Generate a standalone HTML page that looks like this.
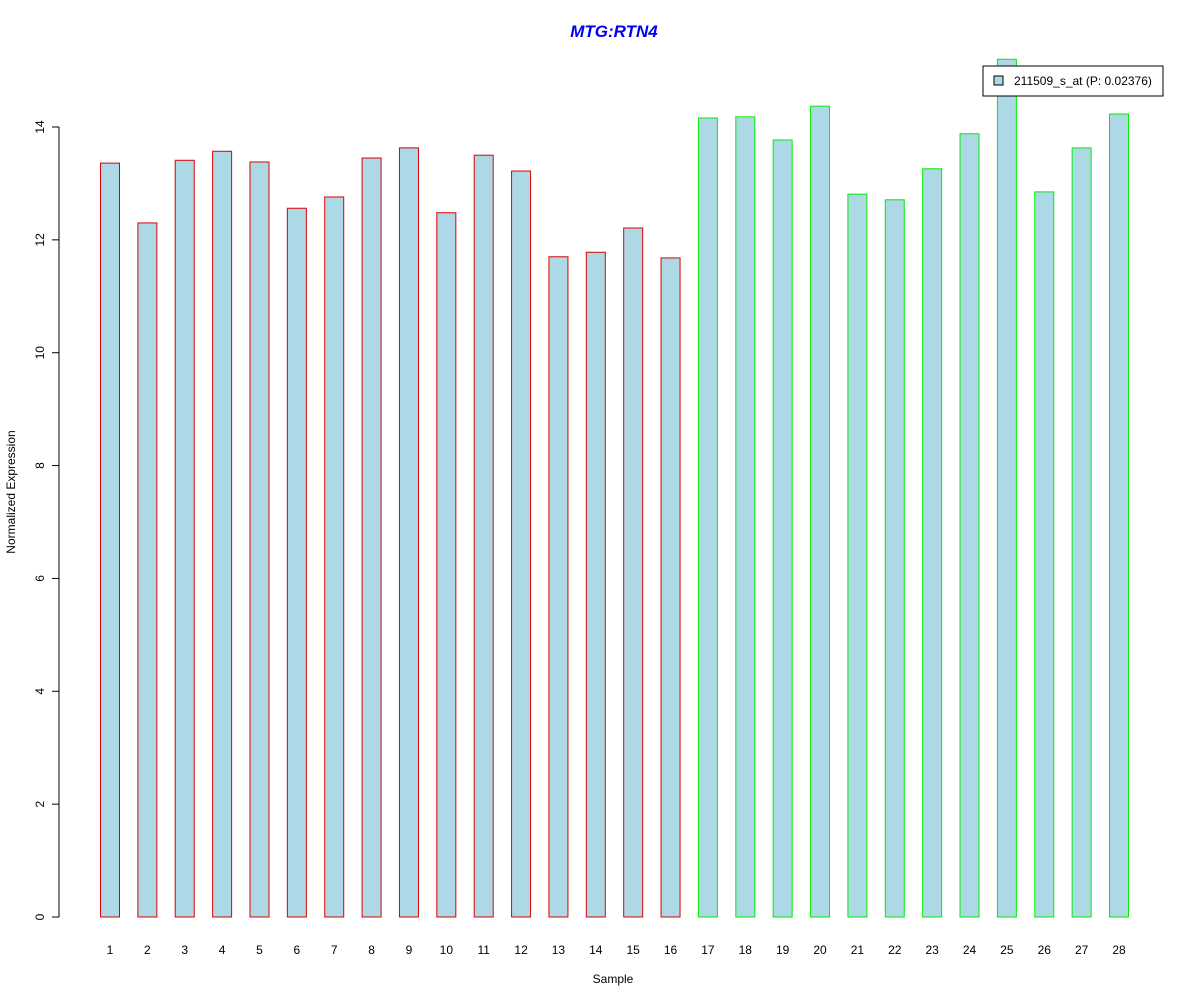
<!DOCTYPE html>
<html><head><meta charset="utf-8"><style>body{margin:0;background:#fff}svg{display:block;font-family:"Liberation Sans",Arial,sans-serif}</style></head>
<body>
<svg id="chart" width="1200" height="1000">
<rect width="1200" height="1000" fill="#fff"/>
<text x="614" y="37" text-anchor="middle" font-size="17" font-weight="bold" font-style="italic" fill="#0000ee">MTG:RTN4</text>
<text x="613" y="983" text-anchor="middle" font-size="12">Sample</text>
<text transform="translate(15,492) rotate(-90)" text-anchor="middle" font-size="12">Normalized Expression</text>
<g id="yaxis"></g>
<g id="bars"></g>
<g id="xlabels"></g>
<g>
<rect x="983" y="66" width="180" height="30" fill="#fff" stroke="#000"/>
<rect x="994" y="76" width="9" height="9" fill="#add8e6" stroke="#000"/>
<text x="1014" y="85" font-size="12">211509_s_at (P: 0.02376)</text>
</g>
</svg>
<script>
const categories=["1","2","3","4","5","6","7","8","9","10","11","12","13","14","15","16","17","18","19","20","21","22","23","24","25","26","27","28"];
const values=[13.36,12.30,13.41,13.57,13.38,12.56,12.76,13.45,13.63,12.48,13.50,13.22,11.70,11.78,12.21,11.68,14.16,14.18,13.77,14.37,12.81,12.71,13.26,13.88,15.20,12.85,13.63,14.23];
const groups=[0,0,0,0,0,0,0,0,0,0,0,0,0,0,0,0,1,1,1,1,1,1,1,1,1,1,1,1];
const yTicks=[0,2,4,6,8,10,12,14];
const NS="http://www.w3.org/2000/svg";
const y=v=>917-v*(790/14);
const x=i=>100+i*(1009/27);
const bw=19;
const ya=document.getElementById('yaxis');
function mk(t,a,p){const e=document.createElementNS(NS,t);for(const k in a)e.setAttribute(k,a[k]);p.appendChild(e);return e;}
mk('line',{x1:59,x2:59,y1:y(0),y2:y(14),stroke:'#000'},ya);
yTicks.forEach(v=>{
 const l=mk('line',{x1:52,x2:59,y1:y(v),y2:y(v),stroke:'#000'},ya);
 
 
 const t=mk('text',{transform:`translate(44,${y(v)}) rotate(-90)`,'text-anchor':'middle','font-size':12},ya);
 
 
 t.textContent=v;
});
const bg=document.getElementById('bars'),xl=document.getElementById('xlabels');
values.forEach((v,i)=>{
 const r=mk('rect',{x:x(i)+0.5,y:y(v),width:bw,height:y(0)-y(v),fill:'#add8e6',stroke:groups[i]?'#00ee00':'#dd0000'},bg);
 
 
 const t=mk('text',{x:x(i)+bw/2+0.5,y:954,'text-anchor':'middle','font-size':12},xl);
 
 
 t.textContent=categories[i];
});
</script>
</body></html>
